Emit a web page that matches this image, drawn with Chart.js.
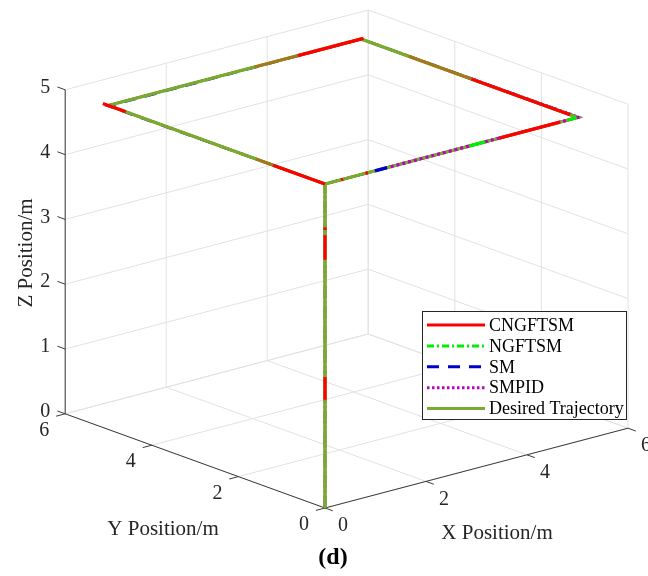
<!DOCTYPE html>
<html>
<head>
    <title>3D Trajectory Tracking</title>
    <script src="https://cdn.jsdelivr.net/npm/chart.js"></script>
    <style>
        body {
            margin: 0;
            background-color: #ffffff;
        }
        #chart {
            display: block;
        }
    </style>
</head>
<body>
    <canvas id="chart" width="648" height="576"></canvas>

    <script>
        // axis ticks (m)
        const xTicks = [0, 2, 4, 6];
        const yTicks = [0, 2, 4, 6];
        const zTicks = [0, 1, 2, 3, 4, 5];
        const xMax = 6, yMax = 6, zMax = 5;

        // trajectories as [x, y, z] waypoints
        const desiredPath = [[0, 0, 0], [0, 0, 5], [5, 0, 5], [5, 5, 5], [0, 5, 5], [0, 0, 5]];
        const cngftsmPath = [[0, 0, 0], [0, 0, 5], [5, 0, 5], [5, 5, 5], [0, 5.01, 5], [0, 0, 5]];
        const ngftsmPath = [[0, 0, 0], [0, 0, 5], [5.01, 0, 5], [5, 5, 5], [0, 5, 5], [0, 0, 5]];
        const smPath = [[0, 0, 0], [0, 0, 5], [5.02, 0, 5], [5.01, 5, 4.997], [0, 5, 4.99], [0, 0, 5]];
        const smpidPath = [[0, 0, 0], [0, 0, 5], [5.03, 0, 5], [5, 5, 5], [0, 5, 5], [0, 0, 5]];

        // stretches where each controller is seen above the desired line
        const cngftsmShown = [
            [[0, 0, 1.67], [0, 0, 2.02]],
            [[0, 0, 3.83], [0, 0, 4.21]],
            [[0, 0, 4.29], [0, 0, 4.33]],
            [[0.32, 0, 5], [0.36, 0, 5]],
            [[0.8, 0, 5], [0.85, 0, 5]],
            [[3.45, 0, 5], [4.65, 0, 5]],
            [[5, 2.45, 5], [5, 0.17, 5]],
            [[3.75, 5, 5], [5.05, 5, 5]],
            [[0, 5.13, 5], [0, 4.6, 5]],
            [[0, 1.2, 5], [0, 0, 5]]
        ];
        const cngftsmFaint = [
            [[5, 3.9, 5], [5, 2.45, 5]],
            [[2.9, 5, 5], [3.75, 5, 5]],
            [[0, 1.6, 5], [0, 1.2, 5]]
        ];
        const ngftsmShown = [
            [[2.87, 0, 5], [3.17, 0, 5]],
            [[4.82, 0, 5], [4.98, 0, 5]]
        ];
        const smShown = [
            [[0.99, 0, 5], [1.23, 0, 5]]
        ];
        const smpidShown = [
            [[1.3, 0, 5], [2.87, 0, 5]],
            [[3.17, 0, 5], [3.5, 0, 5]],
            [[4.6, 0, 5], [4.82, 0, 5]],
            [[4.98, 0, 5], [5.04, 0, 5]]
        ];

        const series = [
            { label: 'CNGFTSM', color: '#ff0000', dash: [], path: cngftsmPath, shown: cngftsmShown },
            { label: 'NGFTSM', color: '#00ee00', dash: [7, 3, 2, 3], path: ngftsmPath, shown: ngftsmShown },
            { label: 'SM', color: '#0000cc', dash: [12, 9], path: smPath, shown: smShown },
            { label: 'SMPID', color: '#c000c0', dash: [2.5, 2.5], path: smpidPath, shown: smpidShown },
            { label: 'Desired Trajectory', color: '#77ac30', dash: [], path: desiredPath, shown: [] }
        ];

        // view: orthographic projection of (x, y, z)
        const viewX = [50.5, -43.3, 0];
        const viewY = [13.3, 15.7, 64.8];
        function project(p) {
            return {
                x: viewX[0] * p[0] + viewX[1] * p[1] + viewX[2] * p[2],
                y: viewY[0] * p[0] + viewY[1] * p[1] + viewY[2] * p[2]
            };
        }

        const font = '"Liberation Serif", "Times New Roman", serif';
        const datasets = [];

        // full controller paths underneath
        series.slice(0, 4).forEach((s, i) => {
            datasets.push({
                label: s.label,
                data: s.path.map(project),
                borderColor: s.color,
                borderDash: s.dash,
                borderWidth: 2.5,
                order: 20 + i
            });
        });
        datasets.push({
            label: 'Desired Trajectory',
            data: desiredPath.map(project),
            borderColor: '#77ac30',
            borderWidth: 3.3,
            order: 10
        });
        // pieces that show through on top
        cngftsmFaint.forEach(seg => {
            datasets.push({
                label: 'CNGFTSM (faint)',
                data: seg.map(project),
                borderColor: 'rgba(220, 60, 0, 0.45)',
                borderWidth: 3,
                order: 4
            });
        });
        const topOrder = { 'CNGFTSM': 2, 'NGFTSM': 1, 'SM': 1, 'SMPID': 3 };
        series.slice(0, 4).forEach(s => {
            s.shown.forEach(seg => {
                datasets.push({
                    label: s.label + ' (shown)',
                    data: seg.map(project),
                    borderColor: s.color,
                    borderDash: s.label === 'SMPID' ? [3, 3] : [],
                    borderWidth: 3.2,
                    order: topOrder[s.label]
                });
            });
        });

        function toPx(chart, p) {
            const q = project(p);
            return [chart.scales.x.getPixelForValue(q.x), chart.scales.y.getPixelForValue(q.y)];
        }

        function line(ctx, chart, a, b) {
            const pa = toPx(chart, a), pb = toPx(chart, b);
            ctx.beginPath();
            ctx.moveTo(pa[0], pa[1]);
            ctx.lineTo(pb[0], pb[1]);
            ctx.stroke();
        }

        const boxPlugin = {
            id: 'box3d',
            beforeDatasetsDraw(chart) {
                const ctx = chart.ctx;
                ctx.save();
                ctx.lineWidth = 1;
                ctx.strokeStyle = '#e2e2e2';
                // floor
                xTicks.forEach(t => line(ctx, chart, [t, 0, 0], [t, yMax, 0]));
                yTicks.forEach(t => line(ctx, chart, [0, t, 0], [xMax, t, 0]));
                // back wall y = yMax
                xTicks.forEach(t => line(ctx, chart, [t, yMax, 0], [t, yMax, zMax]));
                zTicks.forEach(t => line(ctx, chart, [0, yMax, t], [xMax, yMax, t]));
                // back wall x = xMax
                yTicks.forEach(t => line(ctx, chart, [xMax, t, 0], [xMax, t, zMax]));
                zTicks.forEach(t => line(ctx, chart, [xMax, 0, t], [xMax, yMax, t]));

                // axis lines and ticks
                ctx.strokeStyle = '#3a3a3a';
                line(ctx, chart, [0, yMax, 0], [0, yMax, zMax]);
                line(ctx, chart, [0, 0, 0], [0, yMax, 0]);
                line(ctx, chart, [0, 0, 0], [xMax, 0, 0]);
                zTicks.forEach(t => line(ctx, chart, [0, yMax, t], [0, yMax + 0.18, t]));
                yTicks.forEach(t => line(ctx, chart, [0, t, 0], [-0.18, t, 0]));
                xTicks.forEach(t => line(ctx, chart, [t, 0, 0], [t, -0.18, 0]));
                ctx.restore();
            },
            afterDraw(chart) {
                const ctx = chart.ctx;
                ctx.save();
                ctx.fillStyle = '#262626';
                ctx.font = '20px ' + font;
                ctx.textBaseline = 'middle';

                ctx.textAlign = 'right';
                zTicks.forEach(t => {
                    const p = toPx(chart, [0, yMax, t]);
                    ctx.fillText(String(t), p[0] - 15, p[1] - 2);
                });
                ctx.textAlign = 'center';
                yTicks.forEach(t => {
                    const p = toPx(chart, [0, t, 0]);
                    ctx.fillText(String(t), p[0] - 21, p[1] + 17);
                });
                xTicks.forEach(t => {
                    const p = toPx(chart, [t, 0, 0]);
                    ctx.fillText(String(t), p[0] + 18, p[1] + 18);
                });

                // axis titles
                ctx.font = '21px ' + font;
                ctx.fillText('X Position/m', 497, 533);
                ctx.fillText('Y Position/m', 163, 529);
                ctx.save();
                ctx.translate(26, 253);
                ctx.rotate(-Math.PI / 2);
                ctx.fillText('Z Position/m', 0, 0);
                ctx.restore();

                ctx.font = 'bold 24px ' + font;
                ctx.fillStyle = '#000000';
                ctx.fillText('(d)', 333, 558);

                // legend
                const lx = 422, ly = 311, lw = 204, lh = 108;
                ctx.fillStyle = '#ffffff';
                ctx.fillRect(lx, ly, lw, lh);
                ctx.strokeStyle = '#262626';
                ctx.lineWidth = 1;
                ctx.strokeRect(lx + 0.5, ly + 0.5, lw, lh);
                ctx.font = '18px ' + font;
                ctx.textAlign = 'left';
                series.forEach((s, i) => {
                    const y = ly + 14 + i * 20.9;
                    ctx.strokeStyle = s.color;
                    ctx.lineWidth = 3;
                    ctx.setLineDash(s.dash);
                    ctx.beginPath();
                    ctx.moveTo(lx + 5, y);
                    ctx.lineTo(lx + 63, y);
                    ctx.stroke();
                    ctx.setLineDash([]);
                    ctx.fillStyle = '#000000';
                    ctx.fillText(s.label, lx + 67, y + 1);
                });
                ctx.restore();
            }
        };

        new Chart(document.getElementById('chart'), {
            type: 'scatter',
            data: { datasets: datasets },
            options: {
                responsive: false,
                animation: false,
                showLine: true,
                layout: { padding: 0 },
                elements: {
                    point: { radius: 0, hoverRadius: 0 },
                    line: { borderCapStyle: 'butt', borderJoinStyle: 'miter', tension: 0 }
                },
                scales: {
                    x: { type: 'linear', display: false, min: -325, max: 323 },
                    y: { type: 'linear', display: false, min: -68, max: 508 }
                },
                plugins: {
                    legend: { display: false },
                    tooltip: { enabled: false }
                }
            },
            plugins: [boxPlugin]
        });
    </script>
</body>
</html>
